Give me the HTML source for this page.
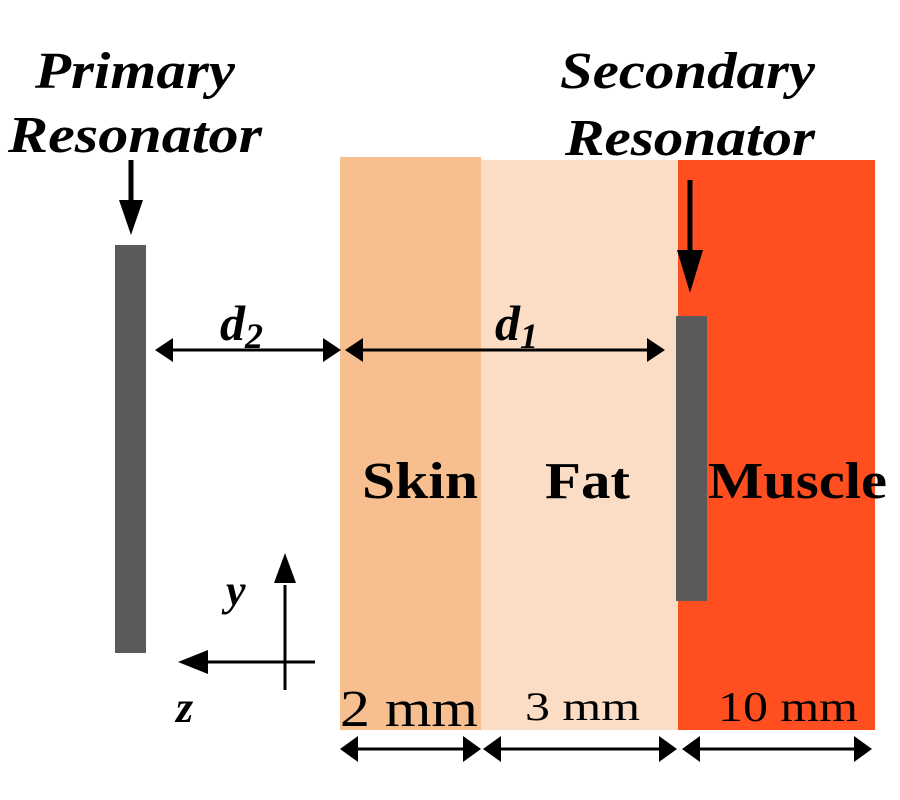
<!DOCTYPE html>
<html><head><style>
body{margin:0;background:#fff}
svg{display:block}
text{font-family:"Liberation Serif",serif}
</style></head><body>
<svg width="900" height="800" viewBox="0 0 900 800">
<rect x="340" y="157" width="141" height="573" fill="#f7bf8f"/>
<rect x="481" y="160" width="198" height="570" fill="#fbdcc4"/>
<rect x="678" y="160" width="197" height="570" fill="#ff4f20"/>
<rect x="115" y="245" width="31" height="408" fill="#5a5a5a"/>
<rect x="676" y="316" width="31" height="285" fill="#5a5a5a"/>
<g font-style="italic" font-weight="bold" font-size="52" fill="#000" lengthAdjust="spacingAndGlyphs">
<text x="35" y="88" textLength="200" lengthAdjust="spacingAndGlyphs">Primary</text>
<text x="8" y="152" textLength="254" lengthAdjust="spacingAndGlyphs">Resonator</text>
<text x="560" y="88" textLength="255" lengthAdjust="spacingAndGlyphs">Secondary</text>
<text x="565" y="155" textLength="250" lengthAdjust="spacingAndGlyphs">Resonator</text>
</g>
<g font-weight="bold" font-size="52">
<text x="362" y="498" textLength="116" lengthAdjust="spacingAndGlyphs">Skin</text>
<text x="545" y="498" textLength="85" lengthAdjust="spacingAndGlyphs">Fat</text>
<text x="708" y="498" textLength="179" lengthAdjust="spacingAndGlyphs">Muscle</text>
</g>
<g font-size="50" font-style="italic" font-weight="bold">
<text x="220" y="340">d<tspan font-size="36" dy="8">2</tspan></text>
<text x="495" y="340">d<tspan font-size="36" dy="8">1</tspan></text>
</g>
<text x="340" y="726" font-size="52" textLength="138" lengthAdjust="spacingAndGlyphs">2 mm</text>
<text x="525" y="720" font-size="40" textLength="115" lengthAdjust="spacingAndGlyphs">3 mm</text>
<text x="718" y="721" font-size="42" textLength="140" lengthAdjust="spacingAndGlyphs">10 mm</text>
<text x="226" y="605" font-size="44" font-style="italic" font-weight="bold">y</text>
<text x="176" y="722" font-size="44" font-style="italic" font-weight="bold">z</text>
<g stroke="#000" stroke-width="5">
<line x1="131" y1="160" x2="131" y2="205"/>
<line x1="690" y1="180" x2="690" y2="255"/>
</g>
<path d="M119,200 L143,200 L131,235 z" fill="#000"/>
<path d="M677,250 L703,250 L690,293 z" fill="#000"/>
<g stroke="#000" stroke-width="3">
<line x1="170" y1="350" x2="325" y2="350"/>
<line x1="360" y1="350" x2="650" y2="350"/>
<line x1="355" y1="749" x2="465" y2="749"/>
<line x1="498" y1="749" x2="663" y2="749"/>
<line x1="697" y1="749" x2="857" y2="749"/>
<line x1="285" y1="585" x2="285" y2="690"/>
<line x1="205" y1="662" x2="315" y2="662"/>
</g>
<g fill="#000">
<path d="M155,350 L173,338 L173,362 z"/><path d="M341,350 L323,338 L323,362 z"/>
<path d="M345,350 L363,338 L363,362 z"/><path d="M665,350 L647,338 L647,362 z"/>
<path d="M340,749 L358,736 L358,762 z"/><path d="M481,749 L463,736 L463,762 z"/>
<path d="M483,749 L501,736 L501,762 z"/><path d="M677,749 L659,736 L659,762 z"/>
<path d="M682,749 L700,736 L700,762 z"/><path d="M872,749 L854,736 L854,762 z"/>
<path d="M285,553 L274,583 L296,583 z"/>
<path d="M178,662 L208,650 L208,674 z"/>
</g>
</svg>
</body></html>
